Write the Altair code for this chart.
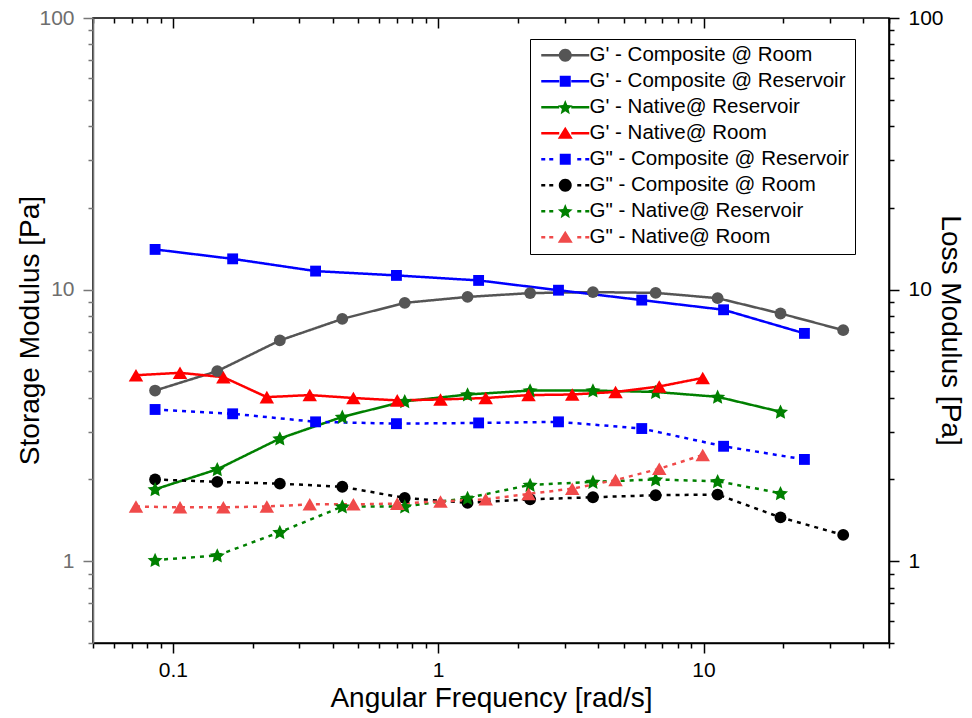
import math
import altair as alt
import pandas as pd

# ---------------- data ----------------
series_names = [
    "G' - Composite @ Room",
    "G' - Composite @ Reservoir",
    "G' - Native@ Reservoir",
    "G' - Native@ Room",
    'G" - Composite @ Reservoir',
    'G" - Composite @ Room',
    'G" - Native@ Reservoir',
    'G" - Native@ Room',
]

freq_a = [0.0857, 0.147, 0.253, 0.435, 0.748, 1.29, 2.22, 3.83, 6.6, 11.3, 19.5, 33.6]
freq_b = [0.0857, 0.168, 0.345, 0.696, 1.42, 2.84, 5.85, 11.9, 24.0]
freq_c = [0.0726, 0.1064, 0.155, 0.226, 0.328, 0.479, 0.701, 1.02, 1.51, 2.19, 3.2, 4.66, 6.81, 9.93]

g1_comp_room = [4.25, 5.01, 6.50, 7.80, 8.94, 9.40, 9.71, 9.79, 9.73, 9.30, 8.17, 7.09]
g1_comp_res = [14.06, 12.98, 11.70, 11.28, 10.81, 9.95, 9.15, 8.43, 6.90]
g1_nat_res = [1.84, 2.18, 2.83, 3.40, 3.88, 4.11, 4.25, 4.25, 4.20, 4.03, 3.55]
g1_nat_room = [4.84, 4.94, 4.76, 4.02, 4.09, 3.99, 3.91, 3.94, 3.99, 4.09, 4.11, 4.20, 4.40, 4.73]
g2_comp_res = [3.62, 3.49, 3.26, 3.21, 3.23, 3.26, 3.08, 2.65, 2.37]
g2_comp_room = [2.00, 1.96, 1.93, 1.88, 1.71, 1.64, 1.69, 1.72, 1.75, 1.76, 1.45, 1.25]
g2_nat_res = [1.01, 1.05, 1.28, 1.59, 1.59, 1.71, 1.91, 1.96, 2.00, 1.97, 1.78]
g2_nat_room = [1.59, 1.58, 1.58, 1.59, 1.62, 1.62, 1.63, 1.66, 1.69, 1.77, 1.85, 1.99, 2.19, 2.46]

x_ticks = [0.05, 0.06, 0.07, 0.08, 0.09, 0.1, 0.2, 0.3, 0.4, 0.5, 0.6, 0.7, 0.8, 0.9,
           1, 2, 3, 4, 5, 6, 7, 8, 9, 10, 20, 30, 40, 50]
y_ticks = [0.5, 0.6, 0.7, 0.8, 0.9, 1, 2, 3, 4, 5, 6, 7, 8, 9,
           10, 20, 30, 40, 50, 60, 70, 80, 90, 100]

series_data = [
    (freq_a, g1_comp_room),
    (freq_b, g1_comp_res),
    (freq_a[:11], g1_nat_res),
    (freq_c, g1_nat_room),
    (freq_b, g2_comp_res),
    (freq_a, g2_comp_room),
    (freq_a[:11], g2_nat_res),
    (freq_c, g2_nat_room),
]

rows = []
for name, (fx, fy) in zip(series_names, series_data):
    for a, b in zip(fx, fy):
        rows.append({"series": name, "freq": a, "val": b})
df = pd.DataFrame(rows)

# ---------------- styles ----------------
FONT = "Liberation Sans"
PLOT_W, PLOT_H = 796, 625


def f(v):
    return f"{v:.3f}"


def poly(pts):
    d = "M" + f(pts[0][0]) + "," + f(pts[0][1])
    for p in pts[1:]:
        d += "L" + f(p[0]) + "," + f(p[1])
    return d + "Z"


def star_pts(cx, ro, ri):
    pts = []
    for k in range(10):
        r = ro if k % 2 == 0 else ri
        ang = -math.pi / 2 + k * math.pi / 5
        pts.append((cx + r * math.cos(ang), r * math.sin(ang) + 0.08 * ro))
    return pts


STAR = poly(star_pts(0.0, 1.0, 0.48))

colors = ["#555555", "#0000FF", "#008000", "#FF0000", "#0000FF", "#000000", "#008000", "#F04A4A"]
shape_kind = ["circle", "square", "star", "triangle-up", "square", "circle", "star", "triangle-up"]
kind_shape = {"circle": "circle", "square": "square", "star": STAR, "triangle-up": "triangle-up"}
kind_size = {"circle": 140, "square": 118, "star": 250, "triangle-up": 210}
dashes = [[1, 0]] * 4 + [[4, 5]] * 4

# legend glyphs: filled path in units of 5 px (symbolSize 100)
CX = 3.8


def marker_path(shape, cx):
    if shape == "circle":
        r = 1.3
        pts = [(cx + r * math.cos(2 * math.pi * k / 24), r * math.sin(2 * math.pi * k / 24)) for k in range(24)]
    elif shape == "square":
        h = 1.1
        pts = [(cx - h, -h), (cx + h, -h), (cx + h, h), (cx - h, h)]
    elif shape == "triangle-up":
        pts = [(cx, -1.3), (cx + 1.5, 1.1), (cx - 1.5, 1.1)]
    else:
        pts = star_pts(cx, 1.55, 0.7)
    return poly(pts)


def seg(a, b):
    return poly([(a, -0.25), (b, -0.25), (b, 0.25), (a, 0.25)])


solid_line = seg(-1.0, CX - 1.2) + seg(CX + 1.2, 8.6)
dash_line = seg(-1.0, -0.2) + seg(0.6, 1.4) + seg(6.2, 7.0) + seg(7.8, 8.6)
legend_paths = [
    (dash_line if dashes[i][1] > 0 else solid_line) + marker_path(shape_kind[i], CX)
    for i in range(len(series_names))
]

xs = alt.Scale(type="log", domain=[0.05, 50])
ys = alt.Scale(type="log", domain=[0.5, 100])
color_scale = alt.Scale(domain=series_names, range=colors)

is_major = "abs(log(datum.value)/LN10 - round(log(datum.value)/LN10)) < 0.01"
tick_size = {"condition": {"test": is_major, "value": 10}, "value": 5}
label_expr = f"{is_major} ? datum.label : ''"

axis_common = dict(
    values=x_ticks, format="~g", labelExpr=label_expr, labelOverlap=False, labelFlush=False,
    tickSize=tick_size, tickWidth=1.5, domainWidth=1.6, grid=False,
    labelFont=FONT, labelFontSize=21, titleFont=FONT, titleFontSize=28,
    titleFontWeight="normal", titleColor="black",
)

x_bottom = alt.X("freq:Q", scale=xs, axis=alt.Axis(
    orient="bottom", title="Angular Frequency [rad/s]", labelPadding=6,
    domainColor="black", tickColor="black", labelColor="black",
    titleX=398, titleY=55, titleBaseline="middle", titleAnchor="middle",
    **axis_common))
x_none = alt.X("freq:Q", scale=xs, axis=None)

# tick-only axis moved up to the top frame edge, so its ticks point inward
x_top_inner = alt.X("freq:Q", scale=xs, axis=alt.Axis(
    orient="bottom", values=x_ticks, labels=False, domain=False, grid=False,
    tickSize=tick_size, tickWidth=1.5, tickColor="black", offset=-PLOT_H, title=None))

y_axis_common = dict(axis_common)
y_axis_common["values"] = y_ticks

y_left = alt.Y("val:Q", scale=ys, axis=alt.Axis(
    orient="left", title="Storage Modulus [Pa]", labelPadding=9,
    domainColor="#777777", tickColor="#777777", labelColor="#6e6e6e",
    titleAngle=-90, titleX=-63, titleY=312, titleBaseline="middle", titleAnchor="middle",
    **y_axis_common))

y_right = alt.Y("val:Q", scale=ys, axis=alt.Axis(
    orient="right", title="Loss Modulus [Pa]", labelPadding=9,
    domainColor="black", tickColor="black", labelColor="black",
    titleAngle=90, titleX=60, titleY=312, titleBaseline="middle", titleAnchor="middle",
    **y_axis_common))
y_none = alt.Y("val:Q", scale=ys, axis=None)

base = alt.Chart(df)

lines = base.mark_line(strokeWidth=2.5, clip=True).encode(
    x=x_bottom,
    y=y_left,
    color=alt.Color("series:N", scale=color_scale, legend=None),
    strokeDash=alt.StrokeDash("series:N", scale=alt.Scale(domain=series_names, range=dashes), legend=None),
    detail="series:N",
)

point_layers = []
for i, kind in enumerate(["circle", "square", "star", "triangle-up"]):
    members = [n for n, k in zip(series_names, shape_kind) if k == kind]
    point_layers.append(
        base.transform_filter(alt.FieldOneOfPredicate(field="series", oneOf=members))
        .mark_point(filled=True, opacity=1, strokeWidth=0, clip=True,
                    shape=kind_shape[kind], size=kind_size[kind])
        .encode(
            x=x_none,
            y=y_right if i == 0 else y_none,
            color=alt.Color("series:N", scale=color_scale, legend=None),
        )
    )

leg = alt.Legend(
    title=None, orient="none", legendX=437, legendY=21,
    symbolSize=100, symbolStrokeWidth=0, symbolOpacity=1,
    labelOffset=33, labelFont=FONT, labelFontSize=20.5, labelColor="black", labelLimit=0,
    padding=6, rowPadding=5, strokeColor="black", fillColor="white",
)

legend_layer = base.mark_point(filled=True, opacity=1, size=0, strokeWidth=0).encode(
    x=x_top_inner,
    y=y_none,
    fill=alt.Fill("series:N", scale=color_scale, legend=leg),
    shape=alt.Shape("series:N", scale=alt.Scale(domain=series_names, range=legend_paths), legend=leg),
)

chart = (
    alt.layer(lines, *point_layers, legend_layer)
    .resolve_axis(x="independent", y="independent")
    .resolve_scale(fill="independent", shape="independent")
    .properties(
        width=PLOT_W, height=PLOT_H,
        autosize=alt.AutoSizeParams(type="none"),
        padding={"left": 93, "top": 18, "right": 83, "bottom": 75},
    )
    .configure(font=FONT)
    .configure_view(stroke="black", strokeWidth=1.6)
)

chart.save("out.html", embed_options={"renderer": "svg", "actions": False})
